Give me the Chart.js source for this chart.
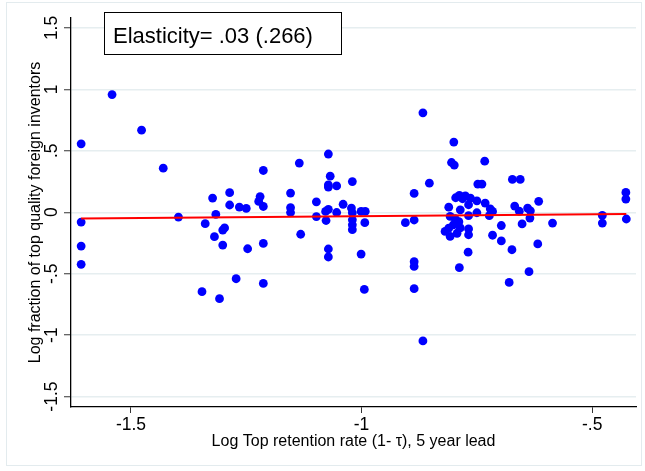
<!DOCTYPE html>
<html>
<head>
<meta charset="utf-8">
<script src="https://cdn.jsdelivr.net/npm/chart.js@4"></script>
<style>
  html, body { margin: 0; padding: 0; background: #ffffff; }
  #wrap { width: 645px; height: 471px; position: relative; }
</style>
</head>
<body>
<div id="wrap"><canvas id="c" width="645" height="471"></canvas></div>
<script>
// ---- data ----
const xValues = [
  -1.541, -1.608, -1.477, -1.430, -1.608, -1.608, -1.608, -1.397, -1.323, -1.286,
  -1.286, -1.316, -1.265, -1.250, -1.339, -1.319, -1.301, -1.297, -1.301, -1.247,
  -1.272, -1.346, -1.308, -1.213, -1.220, -1.223, -1.213, -1.213, -1.213, -1.135,
  -1.154, -1.154, -1.154, -1.132, -1.072, -1.068, -1.072, -1.072, -1.054, -1.098,
  -1.098, -1.078, -1.072, -1.077, -1.054, -1.040, -1.020, -1.022, -1.020, -1.020,
  -1.020, -1.020, -1.001, -0.992, -0.993, -1.072, -1.072, -1.001, -0.994, -0.867,
  -0.800, -0.805, -0.799, -0.733, -0.853, -0.886, -0.905, -0.886, -0.886, -0.886,
  -0.886, -0.867, -0.788, -0.769, -0.748, -0.739, -0.673, -0.656, -0.616, -0.811,
  -0.796, -0.788, -0.781, -0.764, -0.750, -0.732, -0.721, -0.716, -0.768, -0.786,
  -0.750, -0.768, -0.723, -0.808, -0.797, -0.789, -0.801, -0.811, -0.819, -0.808,
  -0.793, -0.786, -0.768, -0.768, -0.697, -0.716, -0.697, -0.674, -0.680, -0.637,
  -0.668, -0.658, -0.640, -0.634, -0.635, -0.652, -0.618, -0.775, -0.586, -0.478,
  -0.478, -0.427, -0.427, -0.426
];
const yValues = [
   0.958,  0.557,  0.668,  0.359, -0.080, -0.275, -0.424, -0.039,  0.115,  0.159,
   0.059, -0.018,  0.042,  0.031, -0.093, -0.199, -0.145, -0.128, -0.267, -0.297,
  -0.541, -0.646, -0.703,  0.340,  0.128,  0.088,  0.047, -0.254, -0.579,  0.400,
   0.156,  0.037, -0.002, -0.179,  0.474,  0.294,  0.222,  0.205,  0.214,  0.085,
  -0.035,  0.007,  0.024, -0.067, -0.002,  0.065,  0.250,  0.034, -0.004, -0.061,
  -0.102, -0.142,  0.007,  0.007, -0.085, -0.299, -0.364, -0.340, -0.628,  0.809,
   0.571,  0.405,  0.384,  0.416,  0.237,  0.153, -0.085, -0.063, -0.402, -0.441,
  -0.622, -1.047, -0.451, -0.325,  0.229,  0.229,  0.267,  0.267,  0.089,  0.041,
   0.118,  0.138,  0.110,  0.115,  0.093,  0.075,  0.028,  0.007,  0.061,  0.020,
  -0.004, -0.028, -0.028, -0.034, -0.053, -0.077, -0.102, -0.130, -0.156, -0.197,
  -0.171, -0.128, -0.136, -0.183, -0.108, -0.187, -0.233, -0.305, -0.571, -0.484,
   0.050,  0.008,  0.034,  0.012, -0.047, -0.095, -0.258,  0.134, -0.088, -0.026,
  -0.088,  0.161,  0.107, -0.055
];
// fitted line (elasticity .03)
const fitX = [-1.608, -0.426];
const fitY = [-0.050, -0.015];

const xTickValues = [-1.5, -1, -0.5];
const xTickLabels = ['-1.5', '-1', '-.5'];
const yTickValues = [-1.5, -1, -0.5, 0, 0.5, 1, 1.5];
const yTickLabels = ['-1.5', '-1', '-.5', '0', '.5', '1', '1.5'];

const xTitle = 'Log Top retention rate (1- \u03C4), 5 year lead';
const yTitle = 'Log fraction of top quality foreign inventors';
const boxText = 'Elasticity= .03 (.266)';

// ---- build chart ----
const FONT = '"Liberation Sans", Arial, Helvetica, sans-serif';
const pts = xValues.map((x, i) => ({ x: x, y: yValues[i] }));
const fitPts = fitX.map((x, i) => ({ x: x, y: fitY[i] }));

function labelFor(values, labels, v) {
  for (let i = 0; i < values.length; i++) {
    if (Math.abs(values[i] - v) < 1e-6) return labels[i];
  }
  return '';
}

const decor = {
  id: 'decor',
  beforeDraw(chart) {
    const ctx = chart.ctx;
    ctx.save();
    ctx.strokeStyle = '#e3ebee';
    ctx.lineWidth = 1;
    ctx.strokeRect(6.5, 2.5, 635, 463);
    ctx.restore();
  },
  afterDraw(chart) {
    const ctx = chart.ctx;
    const ys = chart.scales.y;
    const area = chart.chartArea;
    ctx.save();
    // rotated y tick labels
    ctx.fillStyle = '#000';
    ctx.font = '17.5px ' + FONT;
    ctx.textAlign = 'center';
    ctx.textBaseline = 'alphabetic';
    yTickValues.forEach((v, i) => {
      const py = ys.getPixelForValue(v);
      ctx.save();
      ctx.translate(area.left - 14.3, py);
      ctx.rotate(-Math.PI / 2);
      ctx.fillText(yTickLabels[i], 0, 0);
      ctx.restore();
    });
    // annotation box
    const bx = area.left + 33.5, by = 12.5, bw = 237, bh = 42;
    ctx.fillStyle = '#fff';
    ctx.fillRect(bx, by, bw, bh);
    ctx.strokeStyle = '#000';
    ctx.lineWidth = 1;
    ctx.strokeRect(bx, by, bw, bh);
    ctx.fillStyle = '#000';
    ctx.font = '22px ' + FONT;
    ctx.textAlign = 'left';
    ctx.textBaseline = 'alphabetic';
    ctx.fillText(boxText, bx + 8.5, 42.5);
    ctx.restore();
  }
};

new Chart(document.getElementById('c'), {
  type: 'scatter',
  data: {
    datasets: [
      {
        type: 'line',
        data: fitPts,
        borderColor: '#ff0000',
        borderWidth: 2,
        pointRadius: 0,
        fill: false,
        order: 0
      },
      {
        type: 'scatter',
        data: pts,
        backgroundColor: '#0000ff',
        borderWidth: 0,
        pointRadius: 4.4,
        order: 1
      }
    ]
  },
  options: {
    responsive: false,
    animation: false,
    events: [],
    layout: { padding: { left: 0, right: 9, top: 18, bottom: 0 } },
    plugins: { legend: { display: false }, tooltip: { enabled: false } },
    scales: {
      x: {
        type: 'linear',
        min: -1.630,
        max: -0.405,
        afterFit(s) { s.height = 64; },
        afterBuildTicks(s) { s.ticks = xTickValues.map(v => ({ value: v })); },
        border: { display: true, color: '#000', width: 1.3 },
        grid: { drawOnChartArea: false, drawTicks: true, tickLength: 6, tickColor: '#333', tickWidth: 1 },
        ticks: {
          color: '#000',
          font: { family: FONT, size: 17.5 },
          padding: 2,
          maxRotation: 0,
          callback: (v) => labelFor(xTickValues, xTickLabels, v)
        },
        title: {
          display: true,
          text: xTitle,
          color: '#000',
          font: { family: FONT, size: 16 },
          padding: { top: 0, bottom: 20 }
        }
      },
      y: {
        type: 'linear',
        min: -1.585,
        max: 1.581,
        afterFit(s) { s.width = 71; },
        afterBuildTicks(s) { s.ticks = yTickValues.map(v => ({ value: v })); },
        border: { display: true, color: '#000', width: 1.3 },
        grid: { drawOnChartArea: true, color: '#e6eef0', lineWidth: 1.5, drawTicks: true, tickLength: 7, tickColor: '#333', tickWidth: 1 },
        ticks: { display: false },
        title: {
          display: true,
          text: yTitle,
          color: '#000',
          font: { family: FONT, size: 16 },
          padding: { top: 26, bottom: 0 }
        }
      }
    }
  },
  plugins: [decor]
});
</script>
</body>
</html>
